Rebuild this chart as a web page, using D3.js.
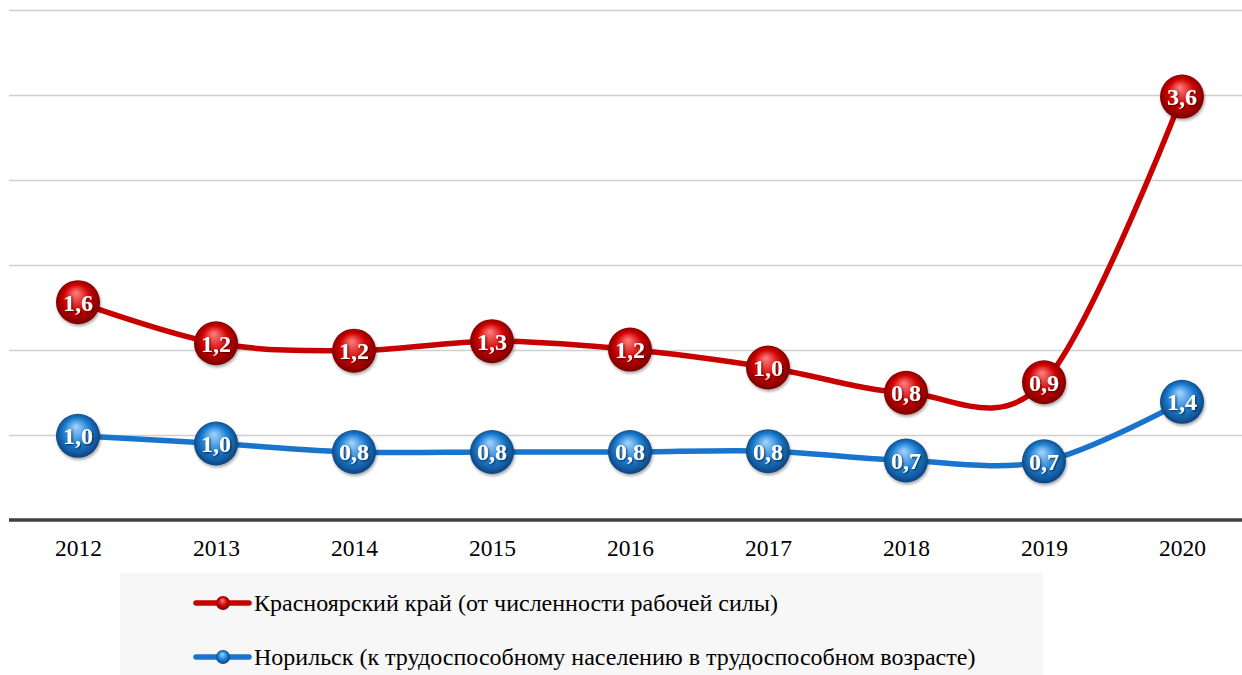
<!DOCTYPE html>
<html><head><meta charset="utf-8">
<script src="https://cdn.jsdelivr.net/npm/d3@7"></script>
<style>html,body{margin:0;padding:0;background:#fff;}svg{display:block;}</style>
</head><body>
<svg id="chart" width="1242" height="675"></svg>
<script>
const years = ["2012","2013","2014","2015","2016","2017","2018","2019","2020"];
const krasValues = [1.64, 1.25, 1.18, 1.27, 1.19, 1.02, 0.78, 0.88, 3.59];
const krasLabels = ["1,6","1,2","1,2","1,3","1,2","1,0","0,8","0,9","3,6"];
const norValues = [0.99, 0.9, 0.8, 0.8, 0.8, 0.81, 0.7, 0.69, 1.39];
const norLabels = ["1,0","1,0","0,8","0,8","0,8","0,8","0,7","0,7","1,4"];
const gridTicks = [1,2,3,4,5,6];
const seriesNames = ["Красноярский край (от численности рабочей силы)",
                     "Норильск (к трудоспособному населению в трудоспособном возрасте)"];

const svg = d3.select("#chart");
const font = "'Liberation Serif','Times New Roman',serif";
const plotLeft = 9, plotRight = 1242, plotTop = 10, plotBottom = 520;

const x = d3.scalePoint().domain(years).range([plotLeft, 1251]).padding(0.5);
const y = d3.scaleLinear().domain([0, 6]).range([plotBottom, plotTop]);
const y2 = d3.scaleLinear().domain([0, 4]).range([475, 53.4]);

const defs = svg.append("defs");
function sphere(id, c0, c1, c2) {
  const g = defs.append("radialGradient").attr("id", id)
    .attr("cx", "50%").attr("cy", "50%").attr("r", "55%")
    .attr("fx", "45%").attr("fy", "28%");
  g.append("stop").attr("offset", "0%").attr("stop-color", c0);
  g.append("stop").attr("offset", "55%").attr("stop-color", c1);
  g.append("stop").attr("offset", "100%").attr("stop-color", c2);
}
sphere("gRed", "#ff8080", "#d00000", "#6a0000");
sphere("gBlue", "#a5d4ff", "#1e7fd4", "#0a3a70");
const sh = defs.append("filter").attr("id","sh").attr("x","-50%").attr("y","-50%").attr("width","200%").attr("height","200%");
sh.append("feDropShadow").attr("dx",1).attr("dy",2).attr("stdDeviation",1.5).attr("flood-color","#000").attr("flood-opacity",0.35);
const tsh = defs.append("filter").attr("id","tsh").attr("x","-30%").attr("y","-30%").attr("width","160%").attr("height","160%");
tsh.append("feDropShadow").attr("dx",1).attr("dy",1).attr("stdDeviation",1).attr("flood-color","#000").attr("flood-opacity",0.7);

// gridlines
svg.append("g").selectAll("line").data(gridTicks).join("line")
  .attr("x1", plotLeft).attr("x2", plotRight)
  .attr("y1", d => Math.round(y(d)) + 0.5).attr("y2", d => Math.round(y(d)) + 0.5)
  .attr("stroke", "#d0d0d0").attr("stroke-width", 1.3);

// x axis
const xAxis = svg.append("g").attr("transform", `translate(0,${plotBottom})`)
  .call(d3.axisBottom(x).tickSize(0).tickPadding(19));
xAxis.select(".domain").remove();
svg.append("line").attr("x1", plotLeft).attr("x2", plotRight).attr("y1", plotBottom).attr("y2", plotBottom)
  .attr("stroke", "#404040").attr("stroke-width", 3.5);
xAxis.selectAll("text").attr("font-family", font).attr("font-size", 23.5).attr("fill", "#000");

const lineK = d3.line().x((d, i) => x(years[i])).y(d => y2(d)).curve(d3.curveCardinal.tension(0));
const lineN = d3.line().x((d, i) => x(years[i])).y(d => y(d)).curve(d3.curveCardinal.tension(0));

function drawSeries(values, labels, yScale, line, color, grad) {
  svg.append("path").datum(values).attr("d", line)
    .attr("fill", "none").attr("stroke", color).attr("stroke-width", 5.5).attr("stroke-linejoin","round");
  const g = svg.append("g");
  const pts = g.selectAll("g").data(values).join("g")
    .attr("transform", (d, i) => `translate(${x(years[i])},${yScale(d)})`);
  pts.append("circle").attr("r", 22).attr("fill", `url(#${grad})`).attr("filter", "url(#sh)");
  pts.append("text").text((d, i) => labels[i])
    .attr("text-anchor", "middle").attr("dy", "0.35em")
    .attr("font-family", font).attr("font-weight", "bold").attr("font-size", 24)
    .attr("fill", "#fff").attr("filter", "url(#tsh)");
}
drawSeries(norValues, norLabels, y, lineN, "#1874cd", "gBlue");
drawSeries(krasValues, krasLabels, y2, lineK, "#c80000", "gRed");

// legend
svg.append("rect").attr("x", 120).attr("y", 573).attr("width", 923).attr("height", 102).attr("fill", "#f7f7f7");
const legend = [
  {name: seriesNames[0], color: "#c80000", grad: "gRed", y: 603},
  {name: seriesNames[1], color: "#1874cd", grad: "gBlue", y: 657}
];
const lg = svg.append("g").selectAll("g").data(legend).join("g")
  .attr("transform", d => `translate(0,${d.y})`);
lg.append("line").attr("x1", 196).attr("x2", 249).attr("y1", 0).attr("y2", 0)
  .attr("stroke", d => d.color).attr("stroke-width", 5.5).attr("stroke-linecap", "round");
lg.append("circle").attr("cx", 223).attr("r", 7).attr("fill", d => `url(#${d.grad})`);
lg.append("text").attr("x", 254).attr("dy", "0.35em").text(d => d.name)
  .attr("font-family", font).attr("font-size", 24).attr("fill", "#000");
</script>
</body></html>
